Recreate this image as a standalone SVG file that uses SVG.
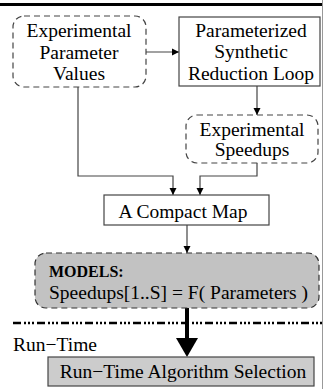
<svg xmlns="http://www.w3.org/2000/svg" width="323" height="389" viewBox="0 0 323 389">
<defs>
<style>
text{font-family:"Liberation Serif","Times New Roman",serif;font-size:19.5px;fill:#000}
.c{text-anchor:middle}
.dash{fill:#fff;stroke:#444;stroke-width:1.2;stroke-dasharray:6 4}
.solid{fill:#fff;stroke:#444;stroke-width:1.2}
.ln{fill:none;stroke:#444;stroke-width:1.2}
</style>
<marker id="ah" viewBox="0 0 10 10" refX="10" refY="5" markerWidth="7" markerHeight="9" markerUnits="userSpaceOnUse" orient="auto">
<path d="M0,0 L10,5 L0,10 z" fill="#000"/>
</marker>
</defs>
<rect x="0" y="3" width="323" height="3" fill="#000"/>
<line x1="322.5" y1="0" x2="322.5" y2="389" stroke="#999" stroke-width="1"/>
<g id="connectors">
<line class="ln" x1="146" y1="52" x2="179" y2="52" marker-end="url(#ah)"/>
<line class="ln" x1="257" y1="86" x2="257" y2="115" marker-end="url(#ah)"/>
<polyline class="ln" points="78,87 78,176 173,176 173,195" marker-end="url(#ah)"/>
<polyline class="ln" points="257,163 257,176 200,176 200,195" marker-end="url(#ah)"/>
<line class="ln" x1="187" y1="225" x2="187" y2="253" marker-end="url(#ah)"/>
<line x1="187" y1="308" x2="187" y2="340" stroke="#000" stroke-width="4"/>
<path d="M176,338 L198,338 L187,357 z" fill="#000"/>
</g>
<g id="params">
<rect class="dash" x="13" y="16" width="133" height="71" rx="11"/>
<text class="c" x="79" y="37">Experimental</text>
<text class="c" x="79" y="59">Parameter</text>
<text class="c" x="79" y="80">Values</text>
</g>
<g id="loop">
<rect class="solid" x="179" y="17" width="141" height="69"/>
<text class="c" x="251" y="37">Parameterized</text>
<text class="c" x="251" y="58">Synthetic</text>
<text class="c" x="251" y="80">Reduction Loop</text>
</g>
<g id="speedups">
<rect class="dash" x="186" y="115" width="132" height="48" rx="11"/>
<text class="c" x="252" y="136">Experimental</text>
<text class="c" x="252" y="156">Speedups</text>
</g>
<g id="map">
<rect class="solid" x="104" y="195" width="165" height="30"/>
<text class="c" x="183" y="218">A Compact Map</text>
</g>
<g id="models">
<rect x="35" y="253" width="284" height="55" rx="11" fill="#c2c2c2" stroke="#333" stroke-width="1.2" stroke-dasharray="6 4"/>
<text x="49" y="277" font-weight="bold" style="font-size:16px">MODELS:</text>
<text x="49" y="299">Speedups[1..S] = F( Parameters )</text>
</g>
<line x1="13" y1="323" x2="323" y2="323" stroke="#000" stroke-width="2.5" stroke-dasharray="8 3 2 2 2 2 2 3"/>
<text x="13" y="351">Run−Time</text>
<g id="selection">
<rect x="48" y="357" width="266" height="29" fill="#cccccc" stroke="#444" stroke-width="1.2"/>
<text class="c" x="183" y="378">Run−Time Algorithm Selection</text>
</g>
</svg>
